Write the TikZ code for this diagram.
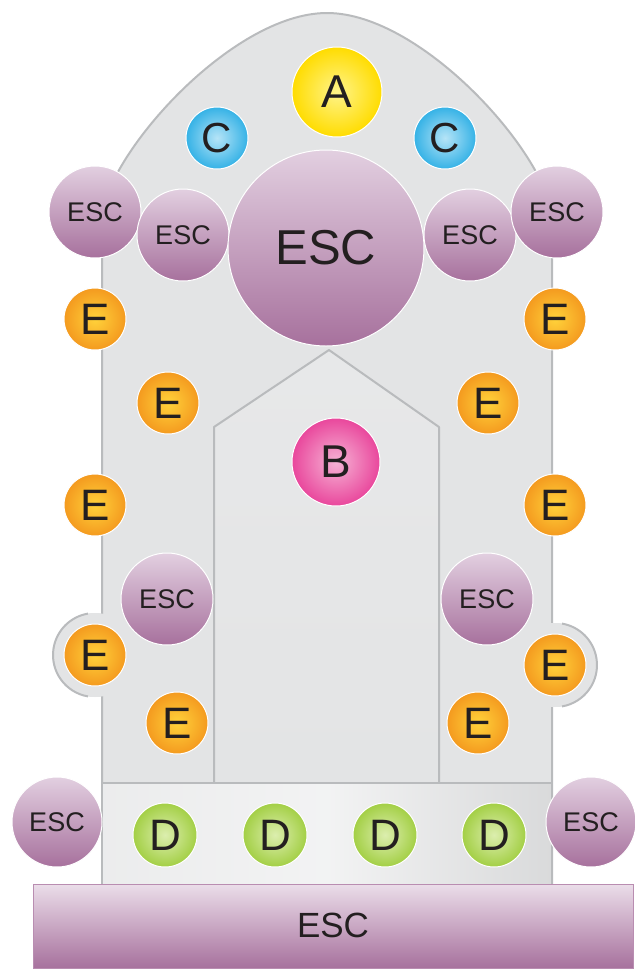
\documentclass[tikz,border=0pt]{standalone}
\usepackage{fontspec}
\setmainfont{Liberation Sans}
\definecolor{bgfill}{HTML}{E3E4E5}
\definecolor{bgline}{HTML}{B9BBBD}
\definecolor{txt}{HTML}{231F20}
\definecolor{escTop}{HTML}{E2CFE0}
\definecolor{escBot}{HTML}{A7719D}
\definecolor{aIn}{HTML}{FFF48A}
\definecolor{aOut}{HTML}{FFDC00}
\definecolor{bIn}{HTML}{F6B3D5}
\definecolor{bOut}{HTML}{E9479C}
\definecolor{cIn}{HTML}{B5E4F7}
\definecolor{cOut}{HTML}{35B2E6}
\definecolor{dIn}{HTML}{DCEEAE}
\definecolor{dOut}{HTML}{A3CF45}
\definecolor{eIn}{HTML}{FFD23A}
\definecolor{eOut}{HTML}{F49A1F}
\tikzset{
  ball/.style={circle, draw=white, line width=1pt, inner sep=0pt, text=txt},
  escball/.style={ball, top color=escTop, bottom color=escBot, minimum size=92pt, font=\fontsize{27}{27}\selectfont},
  aball/.style={ball, inner color=aIn, outer color=aOut, minimum size=90pt, font=\fontsize{46}{46}\selectfont},
  bball/.style={ball, inner color=bIn, outer color=bOut, minimum size=88pt, font=\fontsize{46}{46}\selectfont},
  cball/.style={ball, inner color=cIn, outer color=cOut, minimum size=62pt, font=\fontsize{42}{42}\selectfont},
  dball/.style={ball, inner color=dIn, outer color=dOut, minimum size=64pt, font=\fontsize{44}{44}\selectfont},
  eball/.style={ball, inner color=eIn, outer color=eOut, minimum size=62pt, font=\fontsize{44}{44}\selectfont},
  wall/.style={draw=bgline, line width=2pt, line join=round}
}
\begin{document}
\begin{tikzpicture}[x=1pt,y=-1pt]
  \useasboundingbox (0,0) rectangle (635,970);
  % building
  \fill[bgfill] (95,655) circle (42) (555,665) circle (42);
  \draw[wall, fill=bgfill]
    (102,885) -- (102,220) .. controls (102,160) and (230,13) .. (327,13)
    .. controls (424,13) and (552,160) .. (552,220) -- (552,885) -- cycle;
  \fill[bgfill] (95,655) circle (42) (555,665) circle (42);
  \draw[wall] (95,655) ++(99.6:42) arc (99.6:260.4:42);
  \draw[wall] (555,665) ++(80.4:42) arc (80.4:-80.4:42);
  \draw[wall, top color=bgfill!85!white, bottom color=bgfill] (214,783) -- (214,427) -- (329,350) -- (439,427) -- (439,783);
  \draw[wall, left color=bgfill!70!white, right color=bgfill!90!gray, middle color=bgfill!45!white]
    (102,783) rectangle (552,885);
  \path
    (337,92) node[aball] (a) {A}
    (217,138) node[cball] (c1) {C}
    (445,138) node[cball] (c2) {C}
    (95,212) node[escball] (esc1) {ESC}
    (183,235) node[escball] (esc2) {ESC}
    (470,235) node[escball] (esc3) {ESC}
    (557,212) node[escball] (esc4) {ESC}
    (326,248) node[escball, minimum size=196pt, font=\fontsize{49}{49}\selectfont] (esc0) {ESC}
    (336,462) node[bball] (b) {B};
  \path
    (95,319) node[eball] (e1) {E}
    (168,403) node[eball] (e2) {E}
    (95,505) node[eball] (e3) {E}
    (95,655) node[eball] (e4) {E}
    (177,723) node[eball] (e5) {E}
    (555,319) node[eball] (e6) {E}
    (488,403) node[eball] (e7) {E}
    (555,505) node[eball] (e8) {E}
    (555,665) node[eball] (e9) {E}
    (478,723) node[eball] (e10) {E};
  \path
    (167,599) node[escball] (esc5) {ESC}
    (487,599) node[escball] (esc6) {ESC}
    (57,822) node[escball, minimum size=90pt] (esc7) {ESC}
    (591,822) node[escball, minimum size=90pt] (esc8) {ESC};
  \path
    (165,835) node[dball] (d1) {D}
    (275,835) node[dball] (d2) {D}
    (385,835) node[dball] (d3) {D}
    (494,835) node[dball] (d4) {D};
  % base
  \draw[draw=escBot!80!white, line width=1pt, top color=escTop!70!white, bottom color=escBot]
    (33,884) rectangle (633,968);
  \node[text=txt, font=\fontsize{35}{35}\selectfont] (base) at (333,925) {ESC};
\end{tikzpicture}
\end{document}
